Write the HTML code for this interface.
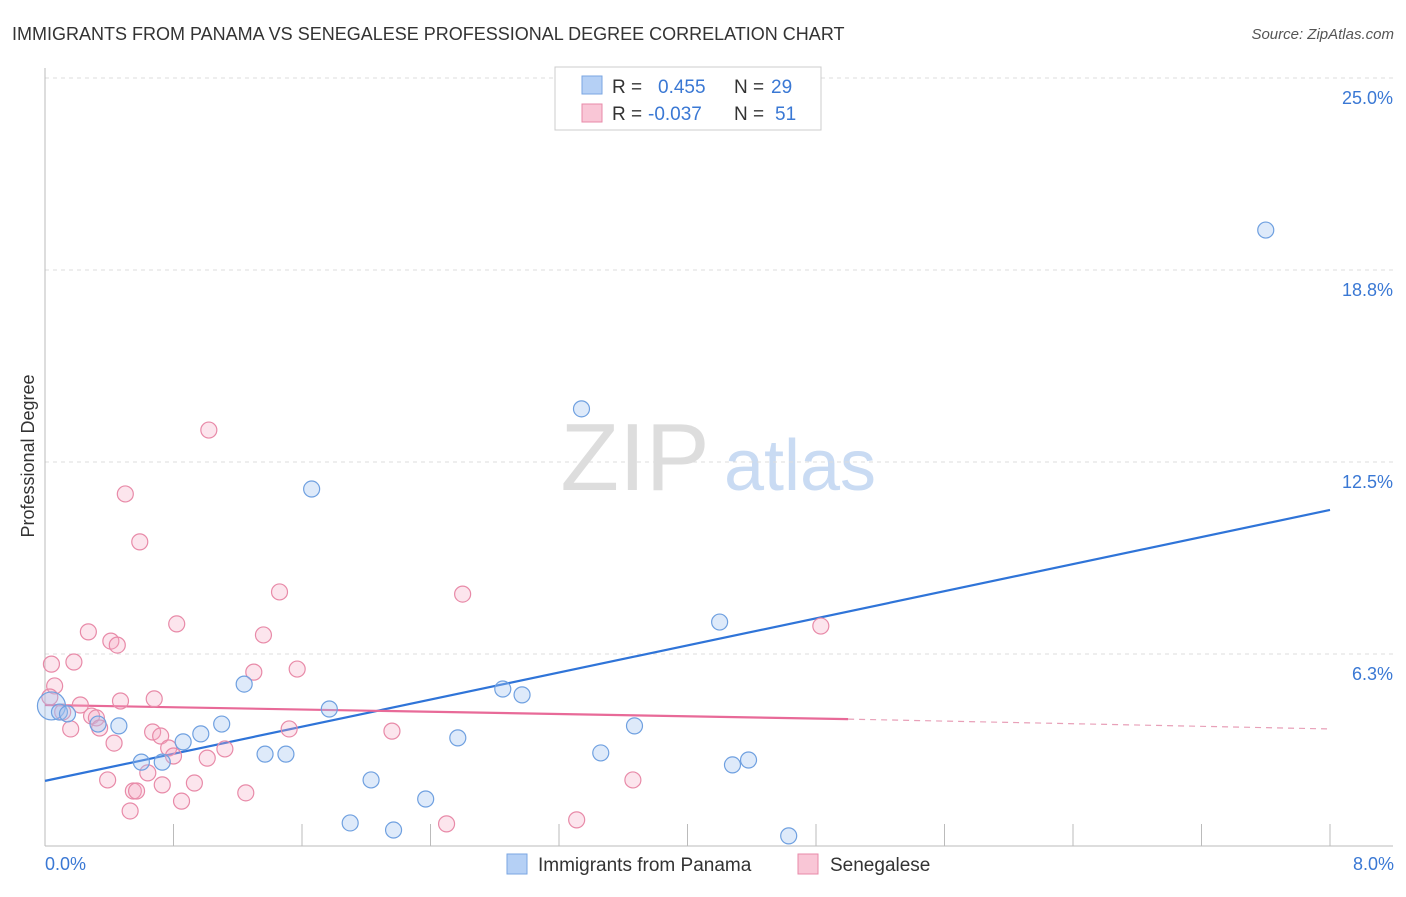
<!DOCTYPE html>
<html><head><meta charset="utf-8"><style>
body{margin:0;background:#fff;font-family:"Liberation Sans",sans-serif;}
svg text{font-family:"Liberation Sans",sans-serif;}
</style></head><body>
<svg id="chart" width="1406" height="892" xmlns="http://www.w3.org/2000/svg">
<text x="12" y="40" font-size="18" fill="#333">IMMIGRANTS FROM PANAMA VS SENEGALESE PROFESSIONAL DEGREE CORRELATION CHART</text>
<text x="1394" y="39" font-size="15" fill="#555" text-anchor="end" font-style="italic">Source: ZipAtlas.com</text>
<text x="34" y="456" font-size="18" fill="#333" text-anchor="middle" transform="rotate(-90 34 456)">Professional Degree</text>
<g><text x="635" y="490" font-size="96" fill="#ddd" text-anchor="middle" font-family="Liberation Serif">ZIP</text><text x="800" y="490" font-size="72" fill="#c9dbf3" text-anchor="middle">atlas</text></g>
<g id="grid"></g>
<g id="xticks"></g>
<g id="trends"></g>
<g id="points"></g>
<g>
<rect x="555" y="67" width="266" height="63" fill="#fff" stroke="#ccc"/>
<rect x="582" y="76" width="20" height="18" fill="#b5d0f5" stroke="#7aa6e2"/>
<text x="612" y="93" font-size="19" fill="#333">R =  </text><text x="658" y="93" font-size="19" fill="#3a78d4">0.455</text>
<text x="734" y="93" font-size="19" fill="#333">N = </text><text x="771" y="93" font-size="19" fill="#3a78d4">29</text>
<rect x="582" y="104" width="20" height="18" fill="#f9c6d6" stroke="#e88aa8"/>
<text x="612" y="120" font-size="19" fill="#333">R = </text><text x="648" y="120" font-size="19" fill="#3a78d4">-0.037</text>
<text x="734" y="120" font-size="19" fill="#333">N = </text><text x="775" y="120" font-size="19" fill="#3a78d4">51</text>
</g>
<g>
<rect x="507" y="854" width="20" height="20" fill="#b5d0f5" stroke="#7aa6e2"/>
<text x="538" y="871" font-size="19" fill="#333">Immigrants from Panama</text>
<rect x="798" y="854" width="20" height="20" fill="#f9c6d6" stroke="#e88aa8"/>
<text x="830" y="871" font-size="19" fill="#333">Senegalese</text>
</g>
</svg>
<script>
const yTicks=[6.25,12.5,18.75,25];
const yTickLabels=["6.3%","12.5%","18.8%","25.0%"];
const xTickLabels=["0.0%","8.0%"];
const blueX=[0.04,0.09,0.14,0.33,0.46,0.60,0.73,0.86,0.97,1.10,1.24,1.37,1.50,1.66,1.77,1.90,2.03,2.17,2.37,2.57,2.85,2.97,3.34,3.46,3.67,4.20,4.28,4.38,4.63,7.60];
const blueY=[4.56,4.36,4.30,3.97,3.91,2.73,2.73,3.39,3.65,3.97,5.27,2.99,2.99,11.62,4.46,0.75,2.15,0.52,1.53,3.52,5.11,4.92,14.23,3.03,3.91,7.29,2.64,2.80,0.33,20.05];
const pinkX=[0.04,0.06,0.03,0.11,0.16,0.18,0.22,0.27,0.29,0.32,0.34,0.39,0.41,0.43,0.45,0.47,0.50,0.53,0.55,0.57,0.59,0.64,0.67,0.68,0.72,0.73,0.77,0.80,0.82,0.85,0.93,1.01,1.02,1.12,1.25,1.30,1.36,1.46,1.52,1.57,2.16,2.50,2.60,3.31,3.66,4.83];
const pinkY=[5.92,5.21,4.85,4.36,3.81,5.99,4.59,6.97,4.23,4.17,3.84,2.15,6.67,3.35,6.54,4.72,11.46,1.14,1.79,1.79,9.90,2.38,3.71,4.79,3.58,1.99,3.19,2.93,7.23,1.46,2.05,2.86,13.54,3.16,1.73,5.66,6.87,8.27,3.81,5.76,3.74,0.72,8.20,0.85,2.15,7.16];
const blueTrend=[2.12,10.94];
const pinkTrend=[4.59,4.13,3.81];
const pinkSolidEnd=5.0;
const NS="http://www.w3.org/2000/svg";
const X=v=>45+v/8*1285, Y=v=>846-v*30.72;
function mk(tag,a,p){const e=document.createElementNS(NS,tag);for(const k in a)e.setAttribute(k,a[k]);p.appendChild(e);return e;}
const grid=document.getElementById('grid');
yTicks.forEach((t,i)=>{
 const l=mk('line',{x1:45,x2:1395,y1:Y(t),y2:Y(t),stroke:'#ddd','stroke-dasharray':'4,4'},grid);
 
 
 const tx=mk('text',{x:1393,y:Y(t)+26,'font-size':18,fill:'#3a78d4','text-anchor':'end'},grid);
 tx.textContent=yTickLabels[i];
 
 
});
const ax=mk('line',{x1:45,x2:45,y1:68,y2:846,stroke:'#bbb'},grid);


const xa=mk('line',{x1:45,x2:1393,y1:846,y2:846,stroke:'#bbb'},grid);


const xt=document.getElementById('xticks');
for(let i=0;i<=10;i++){const v=i*0.8;const l=mk('line',{x1:X(v),x2:X(v),y1:824,y2:846,stroke:'#bbb'},xt);
 
 }
[[0,'start',45],[8,'end',1394]].forEach((d,i)=>{const t=mk('text',{x:d[2],y:870,'font-size':18,fill:'#3a78d4','text-anchor':d[1]},xt);t.textContent=xTickLabels[i];
 
 });
const pts=document.getElementById('points');
pinkX.forEach((x,i)=>{const c=mk('circle',{cx:X(x),cy:Y(pinkY[i]),r:8,fill:'rgba(245,170,195,0.3)',stroke:'#e88aa8','stroke-width':1.2},pts);
 
 });
blueX.forEach((x,i)=>{const c=mk('circle',{cx:X(x),cy:Y(blueY[i]),r:i==0?14:8,fill:'rgba(160,195,240,0.35)',stroke:'#6fa0e0','stroke-width':1.2},pts);
 
 });
const tr=document.getElementById('trends');
const b=mk('line',{x1:X(0),y1:Y(blueTrend[0]),x2:X(8),y2:Y(blueTrend[1]),stroke:'#2f74d8','stroke-width':2.2},tr);


const p=mk('line',{x1:X(0),y1:Y(pinkTrend[0]),x2:X(pinkSolidEnd),y2:Y(pinkTrend[1]),stroke:'#e86a98','stroke-width':2.2},tr);


const pd=mk('line',{x1:X(pinkSolidEnd),y1:Y(pinkTrend[1]),x2:X(8),y2:Y(pinkTrend[2]),stroke:'#e8a0b8','stroke-width':1.2,'stroke-dasharray':'6,5'},tr);


</script>
</body></html>
